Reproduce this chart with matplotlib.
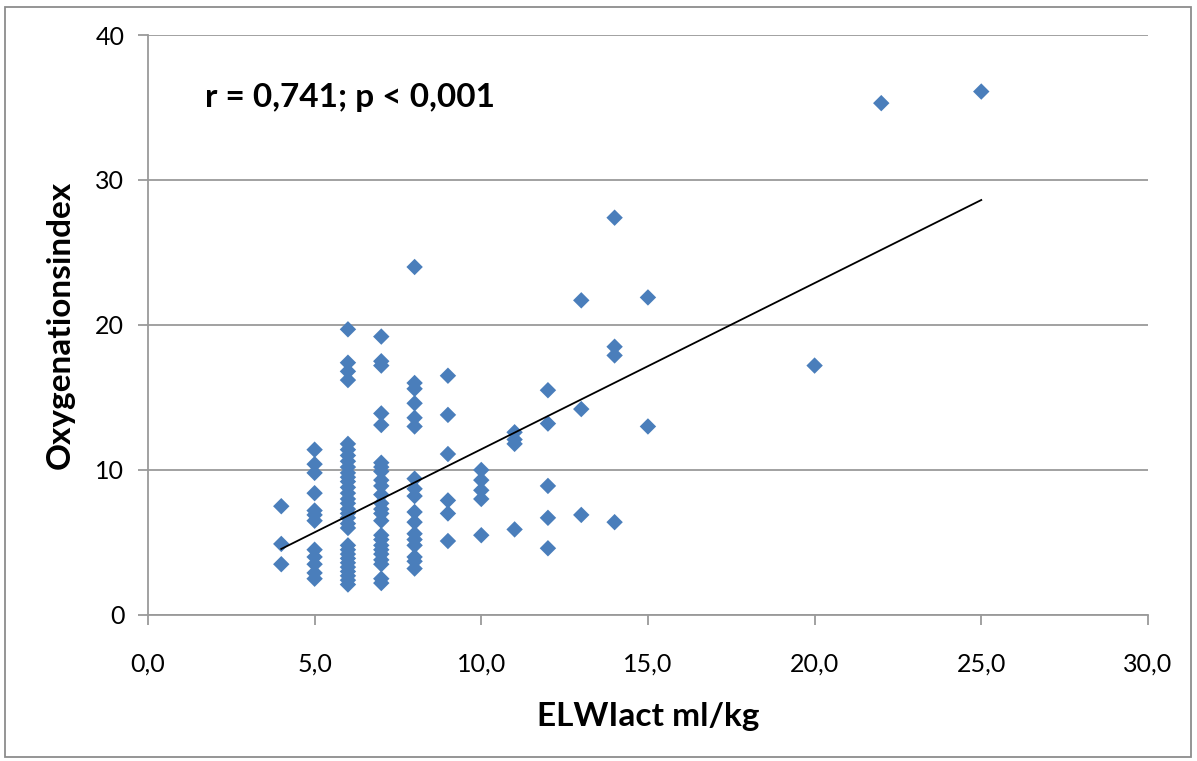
import matplotlib
matplotlib.use("Agg")
import matplotlib.pyplot as plt
from matplotlib.patches import Rectangle
from matplotlib.ticker import FuncFormatter
import numpy as np

plt.rcParams['font.family'] = ['Lato', 'DejaVu Sans']

# ELWIact (ml/kg) and oxygenation index, one list per ELWI value
oi_4 = [7.5, 4.9, 3.5]
oi_5 = [11.4, 10.4, 9.8, 8.4, 7.2, 6.9, 6.5, 4.5, 4.0, 3.5, 2.9, 2.5]
oi_6 = [19.7, 17.4, 16.8, 16.2, 11.8, 11.4, 11.0, 10.6, 10.2, 9.8, 9.5, 9.2,
        8.8, 8.4, 8.0, 7.7, 7.3, 7.0, 6.7, 6.3, 6.0, 4.8, 4.5, 4.2, 3.9, 3.6,
        3.3, 3.0, 2.7, 2.4, 2.1]
oi_7 = [19.2, 17.5, 17.2, 13.9, 13.1, 10.5, 10.2, 9.9, 9.3, 8.9, 8.3, 7.7,
        7.3, 7.0, 6.5, 5.5, 5.2, 4.8, 4.5, 4.2, 3.8, 3.5, 2.5, 2.2]
oi_8 = [24.0, 16.0, 15.6, 14.6, 13.6, 13.0, 9.4, 8.7, 8.2, 7.1, 6.4, 5.6,
        5.2, 4.8, 4.0, 3.7, 3.2]
oi_9 = [16.5, 13.8, 11.1, 7.9, 7.0, 5.1]
oi_10 = [10.0, 9.3, 8.6, 8.0, 5.5]
oi_11 = [12.6, 12.1, 11.8, 5.9]
oi_12 = [15.5, 13.2, 8.9, 6.7, 4.6]
oi_13 = [21.7, 14.2, 6.9]
oi_14 = [27.4, 18.5, 17.9, 6.4]
oi_15 = [21.9, 13.0]
oi_20 = [17.2]
oi_22 = [35.3]
oi_25 = [36.1]

groups = [(4, oi_4), (5, oi_5), (6, oi_6), (7, oi_7), (8, oi_8), (9, oi_9),
          (10, oi_10), (11, oi_11), (12, oi_12), (13, oi_13), (14, oi_14),
          (15, oi_15), (20, oi_20), (22, oi_22), (25, oi_25)]

# linear trendline: oi = slope * elwi + intercept
trend_slope = 1.146
trend_intercept = -0.03

x = np.concatenate([[e] * len(v) for e, v in groups]).astype(float)
y = np.concatenate([v for e, v in groups])

fig = plt.figure(figsize=(11.97, 7.61), dpi=100)
ax = fig.add_axes([0.1236, 0.1919, 0.959 - 0.1236, 0.954 - 0.1919])

ax.scatter(x, y, marker='D', s=70, color='#4a7ebb', edgecolors='none', zorder=3)

xs = np.array([x.min(), x.max()])
ax.plot(xs, trend_slope * xs + trend_intercept, color='black', lw=1.3, zorder=4)

ax.set_xlim(0, 30)
ax.set_ylim(0, 40)
ax.set_xticks(np.arange(0, 31, 5))
ax.set_yticks(np.arange(0, 41, 10))
ax.xaxis.set_major_formatter(FuncFormatter(lambda v, p: f"{v:.1f}".replace('.', ',')))
ax.grid(axis='y', color='#9a9a9a', lw=1.3)
ax.set_axisbelow(True)
for s in ['top', 'right']:
    ax.spines[s].set_visible(False)
for s in ['left', 'bottom']:
    ax.spines[s].set_color('#9a9a9a')
    ax.spines[s].set_linewidth(1.3)
ax.tick_params(axis='both', direction='out', length=7, width=1.3, color='#9a9a9a',
               labelsize=18)
ax.tick_params(axis='y', pad=10)
ax.tick_params(axis='x', pad=20)

ax.set_xlabel('ELWIact ml/kg', fontsize=24, fontweight='bold', labelpad=19)
ax.set_ylabel('Oxygenationsindex', fontsize=24, fontweight='bold', labelpad=15)
ax.text(0.057, 0.893, 'r = 0,741; p < 0,001', transform=ax.transAxes,
        fontsize=24, fontweight='bold', va='center', ha='left')

fig.patches.append(Rectangle((5 / 1197, 1 - 757 / 761), 1186 / 1197, 750 / 761,
                             transform=fig.transFigure, fill=False,
                             edgecolor='#8c8c8c', lw=1.3))

fig.savefig('out.png', dpi=100)
